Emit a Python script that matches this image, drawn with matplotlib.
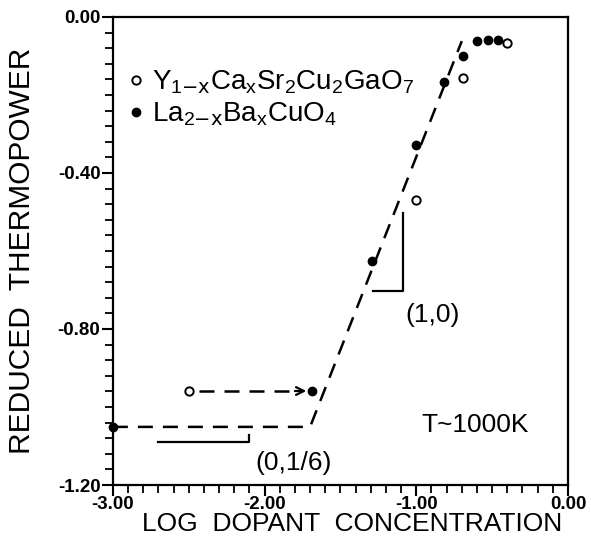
import matplotlib
matplotlib.use("Agg")
import matplotlib.pyplot as plt
from matplotlib.ticker import MultipleLocator, FormatStrFormatter

plt.rcParams['font.family'] = ['Liberation Sans', 'DejaVu Sans']
plt.rcParams['mathtext.default'] = 'regular'

# La(2-x)Ba(x)CuO4 (filled)
la_x = [-3.00, -1.69, -1.29, -1.00, -0.82, -0.69, -0.60, -0.53, -0.46]
la_y = [-1.051, -0.959, -0.626, -0.328, -0.167, -0.100, -0.062, -0.059, -0.059]

# Y(1-x)Ca(x)Sr2Cu2GaO7 (open)
y_x = [-2.50, -1.00, -0.69, -0.40]
y_y = [-0.959, -0.469, -0.156, -0.067]

# dashed guide line
fit_x = [-3.00, -1.70, -0.70]
fit_y = [-1.051, -1.051, -0.062]

fig = plt.figure(figsize=(5.91, 5.38), dpi=100)
ax = fig.add_axes([0.191, 0.0985, 0.770, 0.870])

ax.plot(fit_x, fit_y, color='black', lw=1.8, ls=(0, (6, 4)), zorder=2)

# arrow from open to filled point
ax.plot([-2.43, -1.80], [-0.959, -0.959], color='black', lw=1.8, ls=(0, (6, 4)))
ax.annotate('', xy=(-1.725, -0.959), xytext=(-1.80, -0.959),
            arrowprops=dict(arrowstyle='->', lw=1.6, color='black',
                            mutation_scale=14, shrinkA=0, shrinkB=0))

ax.plot(la_x, la_y, 'o', color='black', ms=6, zorder=3, clip_on=False,
        label=r'La$_{2\mathrm{-x}}$Ba$_x$CuO$_4$')
ax.plot(y_x, y_y, 'o', mfc='white', mec='black', mew=1.4, ms=6, zorder=3,
        label=r'Y$_{1\mathrm{-x}}$Ca$_x$Sr$_2$Cu$_2$GaO$_7$')

# slope triangles
ax.plot([-1.286, -1.088, -1.088], [-0.703, -0.703, -0.503], color='black', lw=1.6)
ax.plot([-2.70, -2.10, -2.10], [-1.090, -1.090, -1.072], color='black', lw=1.6)

ax.text(-0.89, -0.764, '(1,0)', fontsize=19, ha='center', va='center')
ax.text(-1.81, -1.144, '(0,1/6)', fontsize=19, ha='center', va='center')
ax.text(-0.61, -1.046, 'T~1000K', fontsize=19, ha='center', va='center')

handles, labels = ax.get_legend_handles_labels()
ax.legend(handles[::-1], labels[::-1], loc='upper left', bbox_to_anchor=(0.0, 0.925),
          frameon=False, fontsize=20, handlelength=0.5, handletextpad=0.3,
          labelspacing=0.15, borderaxespad=0.2)

ax.set_xlim(-3, 0)
ax.set_ylim(-1.2, 0)
ax.xaxis.set_major_locator(MultipleLocator(1.0))
ax.xaxis.set_minor_locator(MultipleLocator(0.1))
ax.yaxis.set_major_locator(MultipleLocator(0.4))
ax.yaxis.set_minor_locator(MultipleLocator(0.04))
ax.xaxis.set_major_formatter(FormatStrFormatter('%.2f'))
ax.yaxis.set_major_formatter(FormatStrFormatter('%.2f'))
ax.tick_params(which='major', direction='out', length=8, width=1.5,
               labelsize=13.5, pad=1)
ax.tick_params(axis='x', which='major', pad=0)
ax.tick_params(which='minor', direction='out', length=6, width=1.3)
for lab in ax.get_xticklabels() + ax.get_yticklabels():
    lab.set_fontweight('bold')
for s in ax.spines.values():
    s.set_linewidth(1.6)

ax.set_xlabel('LOG  DOPANT  CONCENTRATION', fontsize=19, labelpad=0)
ax.xaxis.set_label_coords(0.525, -0.058)
ax.set_ylabel('REDUCED  THERMOPOWER', fontsize=21.5)
ax.yaxis.set_label_coords(-0.17, 0.5)

fig.savefig('out.png', dpi=100)
